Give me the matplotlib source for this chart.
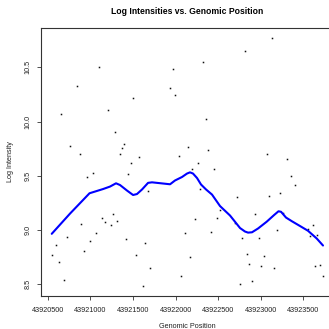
import matplotlib
matplotlib.use("Agg")
import matplotlib.pyplot as plt
import numpy as np

plt.rcParams['font.family'] = ['Liberation Sans', 'DejaVu Sans']

# Probe positions and their log intensities
position = [
    43920547, 43920592, 43920629, 43920656, 43920691, 43920723, 43920762, 43920838,
    43920873, 43920896, 43920929, 43920961, 43920994, 43921031, 43921067, 43921102,
    43921140, 43921169, 43921207, 43921239, 43921262, 43921286, 43921313, 43921348,
    43921372, 43921391, 43921418, 43921442, 43921477, 43921504, 43921536, 43921571,
    43921612, 43921644, 43921674, 43921698, 43921935, 43921966, 43921997, 43922040,
    43922069, 43922105, 43922140, 43922166, 43922196, 43922225, 43922263, 43922290,
    43922322, 43922355, 43922380, 43922413, 43922447, 43922484, 43922515, 43922695,
    43922724, 43922756, 43922783, 43922817, 43922838, 43922861, 43922896, 43922932,
    43922975, 43923002, 43923034, 43923070, 43923099, 43923125, 43923160, 43923186,
    43923221, 43923260, 43923307, 43923354, 43923401, 43923557, 43923579, 43923612,
    43923632, 43923657, 43923694, 43923729,
]
log_intensity = [
    8.769, 8.859, 8.702, 10.070, 8.542, 8.935, 9.775, 10.326,
    9.704, 9.060, 8.809, 9.489, 8.899, 9.529, 8.977, 10.501,
    9.108, 9.077, 10.107, 9.046, 9.148, 9.904, 9.085, 9.704,
    9.756, 9.796, 8.920, 9.517, 9.618, 10.216, 8.765, 9.676,
    8.486, 8.883, 9.358, 8.649, 10.308, 10.483, 10.244, 9.683,
    8.577, 8.972, 9.770, 8.753, 9.567, 9.099, 9.616, 9.378,
    10.553, 10.027, 9.741, 8.983, 9.567, 9.109, 9.189, 9.066,
    9.308, 8.504, 8.928, 10.647, 8.780, 8.684, 8.532, 9.150,
    8.922, 8.670, 8.762, 9.703, 9.311, 10.768, 8.647, 9.002,
    9.344, 9.157, 9.658, 9.501, 9.415, 9.007, 8.946, 9.044,
    8.671, 8.958, 8.680, 8.578,
]

# Smoothed trend of log intensity along the region
smooth_position = [
    43920547, 43920762, 43920990, 43921055, 43921149, 43921231, 43921301, 43921348,
    43921430, 43921501, 43921547, 43921606, 43921677, 43921723, 43921935, 43921993,
    43922075, 43922134, 43922169, 43922204, 43922251, 43922298, 43922357, 43922427,
    43922521, 43922638, 43922756, 43922814, 43922850, 43922896, 43922967, 43923069,
    43923155, 43923207, 43923237, 43923295, 43923366, 43923459, 43923553, 43923655,
    43923729,
]
smooth_value = [
    8.965, 9.152, 9.339, 9.355, 9.378, 9.401, 9.431, 9.415,
    9.364, 9.323, 9.332, 9.374, 9.435, 9.440, 9.422, 9.457,
    9.489, 9.521, 9.532, 9.521, 9.480, 9.420, 9.374, 9.327,
    9.221, 9.134, 9.018, 8.986, 8.976, 8.979, 9.014, 9.077,
    9.138, 9.173, 9.168, 9.115, 9.080, 9.037, 8.993, 8.922,
    8.857,
]

x_ticks = [43920500, 43921000, 43921500, 43922000, 43922500, 43923000, 43923500]
y_ticks = [8.5, 9.0, 9.5, 10.0, 10.5]

W = H = 329
fig = plt.figure(figsize=(W / 100, H / 100), dpi=100)
left, right, top, bottom = 41, 334, 28.3, 295.7
ax = fig.add_axes([left / W, 1 - bottom / H, (right - left) / W, (bottom - top) / H])

ax.plot(position, log_intensity, linestyle='none', marker='s', ms=1.1,
        mec='none', mfc='#111111')
ax.plot(smooth_position, smooth_value, color='#0000ff', lw=1.5,
        solid_joinstyle='round', solid_capstyle='round')

ax.set_xlim(43920421, 43923858)
ax.set_ylim(8.394, 10.861)
ax.set_xticks(x_ticks)
ax.set_xticklabels([str(v) for v in x_ticks])
ax.set_yticks(y_ticks)
ax.set_yticklabels([f"{v:.1f}" for v in y_ticks], rotation=90, va='center')

for s in ax.spines.values():
    s.set_linewidth(0.8)
    s.set_color('#333333')
ax.tick_params(axis='both', direction='out', length=3, width=0.6,
               color='#333333', labelsize=5.2, labelcolor='#222222')
ax.tick_params(axis='x', pad=5)
ax.tick_params(axis='y', pad=4)

fig.text(187.5 / W, 1 - 11.5 / H, "Log Intensities vs. Genomic Position",
         ha='center', va='center', fontsize=6.2, fontweight='bold')
fig.text(187.5 / W, 1 - 326.5 / H, "Genomic Position",
         ha='center', va='center', fontsize=5.2, color='#222222')
fig.text(11 / W, 1 - 162 / H, "Log Intensity", rotation=90,
         ha='center', va='center', fontsize=5.2, color='#222222')

fig.savefig("out.png", dpi=100)
